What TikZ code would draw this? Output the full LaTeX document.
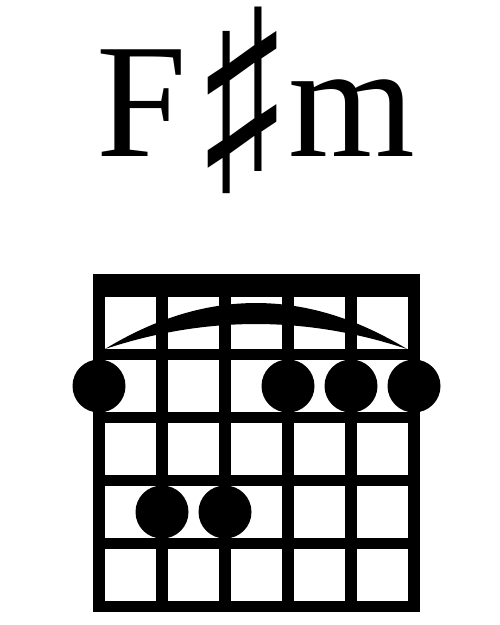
\documentclass[tikz,border=0pt]{standalone}
\usepackage{fontspec}
\setmainfont{Liberation Serif}
\begin{document}
\begin{tikzpicture}[x=1pt,y=-1pt,
  gridline/.style={line width=11.7pt,line cap=rect},
  fingerdot/.style={circle,fill=black,minimum size=53pt,inner sep=0pt},
  titletext/.style={inner sep=0pt,anchor=base west}]
\useasboundingbox (0,0) rectangle (500,625);
% title
\node[titletext,font=\fontsize{163}{163}\selectfont] (f) at (96,156.7) {F};
\node[inner sep=0pt,anchor=center,font=\fontsize{227}{227}\selectfont] (sharp) at (242.4,100.6) {\scalebox{0.67}[1]{♯}};
\node[titletext,font=\fontsize{163}{163}\selectfont] (m) at (288,156.7) {m};
% nut
\fill (93.3,274) rectangle (420,297);
% strings
\foreach \x in {99,162,225,288,351,414}
  \draw[gridline] (\x,280) -- (\x,606.5);
% frets
\foreach \y in {354.5,417.5,480.5,543.5,606.5}
  \draw[gridline] (99,\y) -- (414,\y);
% barre
\fill (105,349) .. controls (205.7,287.7) and (306.3,287.7) .. (407,349)
      .. controls (306.3,315.7) and (205.7,315.7) .. cycle;
% dots
\node[fingerdot] (d1) at (99,386) {};
\node[fingerdot] (d4) at (288,386) {};
\node[fingerdot] (d5) at (351,386) {};
\node[fingerdot] (d6) at (414,386) {};
\node[fingerdot] (d2) at (162,512) {};
\node[fingerdot] (d3) at (225,512) {};
\end{tikzpicture}
\end{document}
